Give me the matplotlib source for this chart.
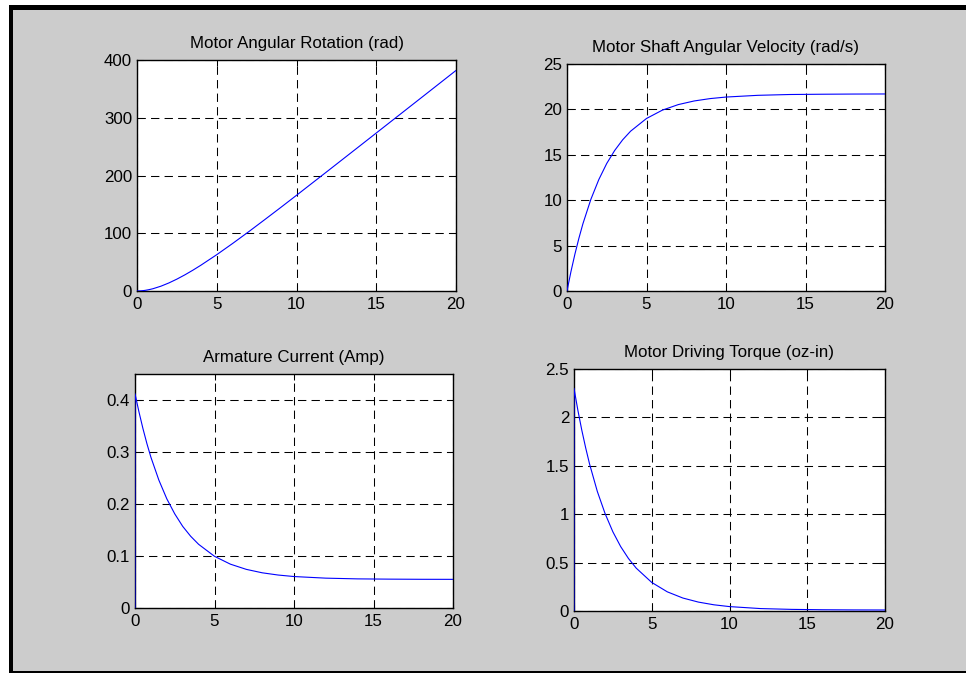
import matplotlib
matplotlib.use('Agg')
import matplotlib.pyplot as plt
from matplotlib.patches import Rectangle

plt.rcParams['font.family'] = ['Liberation Sans', 'DejaVu Sans']

# time samples (s)
t = [0, 0.25, 0.5, 0.75, 1, 1.5, 2, 2.5, 3, 3.5, 4, 5, 6, 7, 8, 9, 10, 12, 14, 16, 18, 20]

rotation = [0, 0.27, 1.06, 2.32, 3.94, 8.33, 13.97, 20.56, 27.94, 35.98, 44.56, 62.9,
            82.4, 102.6, 123.4, 144.4, 165.7, 208.7, 251.9, 295.2, 338.5, 381.9]

velocity = [0, 2.15, 4.08, 5.82, 7.40, 10.09, 12.27, 14.05, 15.48, 16.65, 17.60, 19.00,
            19.92, 20.53, 20.93, 21.19, 21.36, 21.55, 21.64, 21.67, 21.69, 21.70]

# current and torque jump from 0 at t=0
t_jump = [0] + t
current = [0, 0.412, 0.377, 0.345, 0.316, 0.290, 0.246, 0.210, 0.181, 0.157, 0.138, 0.1225,
           0.0994, 0.0843, 0.0743, 0.0677, 0.0634, 0.0605, 0.0574, 0.056, 0.0555, 0.0552, 0.0551]

torque = [0, 2.30, 2.073, 1.869, 1.686, 1.519, 1.235, 1.006, 0.818, 0.666, 0.543, 0.443,
          0.295, 0.198, 0.134, 0.092, 0.064, 0.0455, 0.025, 0.0167, 0.0129, 0.0112, 0.0105]

W, H = 966, 673
fig = plt.figure(figsize=(W / 100, H / 100), dpi=100, facecolor='white')

# black frame and grey figure area
fig.add_artist(Rectangle((9 / W, 0), 957 / W, 668 / H, transform=fig.transFigure,
                         facecolor='black', edgecolor='none', zorder=-10))
fig.add_artist(Rectangle((13 / W, 2 / H), 953 / W, 661 / H, transform=fig.transFigure,
                         facecolor='#cccccc', edgecolor='none', zorder=-9))


def px_axes(left, right, top, bottom):
    return fig.add_axes([left / W, (H - bottom) / H, (right - left) / W, (bottom - top) / H])


panels = [
    ((137, 456, 60, 291), t, rotation, 'Motor Angular Rotation (rad)',
     (0, 400), [0, 100, 200, 300, 400], ['0', '100', '200', '300', '400']),
    ((567, 885, 64, 291), t, velocity, 'Motor Shaft Angular Velocity (rad/s)',
     (0, 25), [0, 5, 10, 15, 20, 25], ['0', '5', '10', '15', '20', '25']),
    ((135, 453, 374, 608), t_jump, current, 'Armature Current (Amp)',
     (0, 0.45), [0, 0.1, 0.2, 0.3, 0.4], ['0', '0.1', '0.2', '0.3', '0.4']),
    ((574, 885, 369, 611), t_jump, torque, 'Motor Driving Torque (oz-in)',
     (0, 2.5), [0, 0.5, 1, 1.5, 2, 2.5], ['0', '0.5', '1', '1.5', '2', '2.5']),
]

for box, x, y, title, ylim, yt, ytl in panels:
    ax = px_axes(*box)
    ax.set_facecolor('white')
    ax.plot(x, y, color='#0000ff', linewidth=0.8, zorder=3)
    ax.set_xlim(0, 20)
    ax.set_ylim(*ylim)
    ax.set_xticks([0, 5, 10, 15, 20])
    ax.set_xticklabels(['0', '5', '10', '15', '20'])
    ax.set_yticks(yt)
    ax.set_yticklabels(ytl)
    ax.grid(True, color='black', linewidth=0.75, linestyle=(0, (8, 5)))
    ax.tick_params(direction='in', length=4, width=0.75, labelsize=12.2,
                   top=True, right=True, colors='black')
    ax.tick_params(axis='x', pad=4.5)
    ax.tick_params(axis='y', pad=3.5)
    for s in ax.spines.values():
        s.set_linewidth(1.0)
        s.set_color('black')
    ax.set_title(title, fontsize=12.2, pad=8.5)

fig.savefig('out.png', dpi=100, facecolor=fig.get_facecolor())
